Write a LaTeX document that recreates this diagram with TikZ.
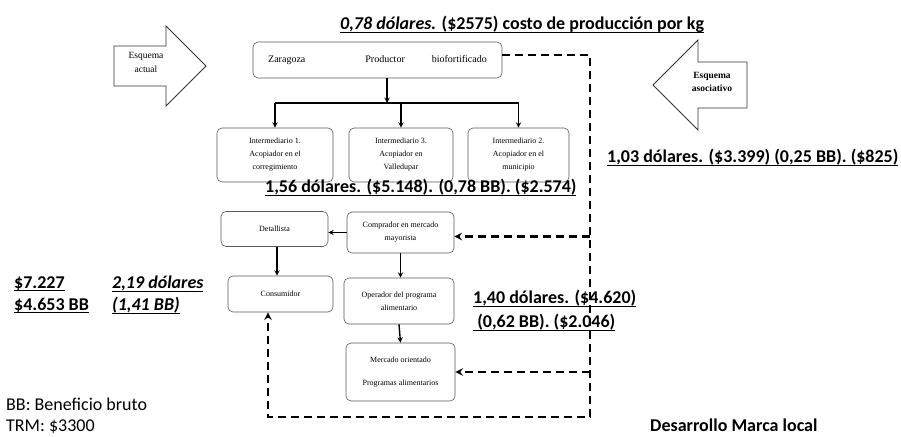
\documentclass[tikz,border=0pt]{standalone}
\usepackage{fontspec}
\setmainfont{Liberation Serif}
\newfontfamily\calibri{Carlito}
\usetikzlibrary{positioning}
\newcommand{\subrayar}[1]{\setbox0\hbox{#1}\rlap{\vrule height -2.2pt depth 3.4pt width \wd0}\box0}
\begin{document}
\begin{tikzpicture}[x=1pt, y=-1pt,
    caja/.style={draw=black!65, line width=0.6pt, rounded corners=5pt, align=center,
      font=\fontsize{8}{13}\selectfont, inner sep=2pt},
    flecha/.style={-stealth, line width=1.4pt},
    trazo/.style={line width=2.4pt, dash pattern=on 8pt off 5pt},
    cifra/.style={font=\calibri\bfseries\fontsize{18}{22}\selectfont, align=left, inner sep=0pt},
    bloque/.style={draw=black!80, line width=0.8pt}]
  \useasboundingbox (0,0) rectangle (901,436);

  % flechas de los esquemas
  \draw[bloque] (114,46) -- (166,46) -- (166,26) -- (206,66) -- (166,106) -- (166,86) -- (114,86) -- cycle;
  \node[font=\fontsize{9.5}{14}\selectfont, align=center] (actual) at (146,62) {Esquema\\actual};
  \draw[bloque] (747,62) -- (698,62) -- (698,40) -- (653,85) -- (698,130) -- (698,108) -- (747,108) -- cycle;
  \node[font=\bfseries\fontsize{9.5}{13}\selectfont, align=center] (asoc) at (712,82) {Esquema\\asociativo};

  % cadena
  \node[caja, font=\fontsize{10}{12}\selectfont, minimum width=249pt, minimum height=36pt] (prod) at (377.5,60)
    {Zaragoza\hspace{60pt}Productor\hspace{27pt}biofortificado};
  \node[caja, minimum width=116pt, minimum height=54pt] (int1) at (275,155) {Intermediario 1.\\Acopiador en el\\corregimiento};
  \node[caja, minimum width=104pt, minimum height=54pt] (int3) at (401,155) {Intermediario 3.\\Acopiador en\\Valledupar};
  \node[caja, minimum width=101pt, minimum height=54pt] (int2) at (518.5,155) {Intermediario 2.\\Acopiador en el\\municipio};
  \node[caja, minimum width=107pt, minimum height=35pt] (detal) at (274.5,229) {Detallista};
  \node[caja, minimum width=107pt, minimum height=41pt] (compr) at (400.5,232.5) {Comprador en mercado\\mayorista};
  \node[caja, minimum width=105pt, minimum height=36pt] (cons) at (280.5,294) {Consumidor};
  \node[caja, minimum width=110pt, minimum height=46pt] (oper) at (399,301) {Operador del programa\\alimentario};
  \node[caja, minimum width=109pt, minimum height=58pt] (merc) at (400.5,372) {Mercado orientado\\[10pt]Programas alimentarios};

  \coordinate (split) at (387,103);
  \draw[flecha] ([xshift=9.5pt]prod.south) -- (split);
  \draw[line width=1.4pt] (split-|int1.north) -- (split-|int2.north);
  \foreach \n in {int1,int3,int2}
    \draw[flecha] (split-|\n.north) -- (\n.north);
  \draw[flecha] (compr.west) -- (compr.west-|detal.east);
  \draw[flecha] ([xshift=2.5pt]detal.south) -- ([xshift=2.5pt]detal.south|-cons.north);
  \draw[flecha] (compr.south) -- (compr.south|-oper.north);
  \draw[flecha] (oper.south) -- (merc.north);

  % marca local
  \coordinate (dtop) at (590,55);
  \coordinate (dbot) at (590,417);
  \coordinate (dleft) at (268,417);
  \draw[trazo, -stealth] ([yshift=5pt]prod.east) -- (dtop) -- (dbot) -- (dleft) -- (dleft|-cons.south);
  \draw[trazo, -stealth] ([yshift=-4pt]compr.east-|dtop) -- ([yshift=-4pt]compr.east);
  \draw[trazo, -stealth] (merc.east-|dtop) -- (merc.east);

  % cifras
  \node[cifra, anchor=west] (costo) at (340,25)
    {\subrayar{{\itshape 0,78 dólares.} (\$2575) costo de producción por kg}};
  \node[cifra, anchor=west] (interm) at (265,188) {\subrayar{1,56 dólares. (\$5.148). (0,78 BB). (\$2.574)}};
  \node[cifra, anchor=west] (asocv) at (607,158) {\subrayar{1,03 dólares. (\$3.399) (0,25 BB). (\$825)}};
  \node[cifra, anchor=north west] (progv) at (473,290)
    {\subrayar{1,40 dólares. (\$4.620)}\\[2pt]\subrayar{ (0,62 BB). (\$2.046)}};
  \node[cifra, anchor=north west] (pesos) at (14,276) {\subrayar{\$7.227}\\\subrayar{\$4.653 BB}};
  \node[cifra, anchor=north west, font=\calibri\bfseries\itshape\fontsize{18}{22}\selectfont] (consv) at (112,276)
    {\subrayar{2,19 dólares}\\\subrayar{(1,41 BB)}};
  \node[cifra, anchor=north west, font=\calibri\fontsize{18}{21}\selectfont] (nota) at (6,398)
    {BB: Beneficio bruto\\TRM: \$3300};
  \node[cifra, anchor=west] (marca) at (650,425) {Desarrollo Marca local};
\end{tikzpicture}
\end{document}
